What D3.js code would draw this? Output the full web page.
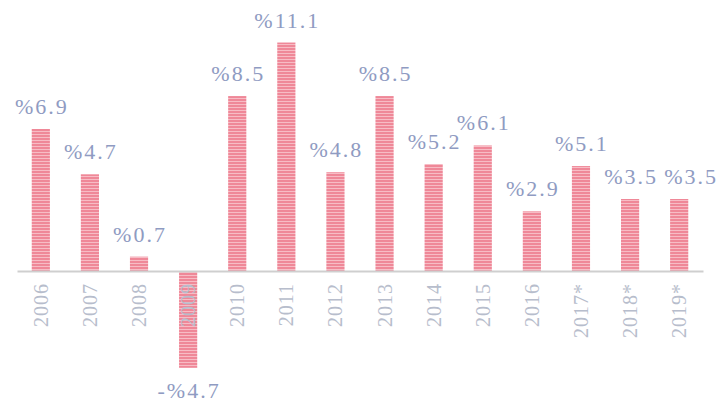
<!DOCTYPE html>
<html>
<head>
<meta charset="utf-8">
<script src="https://cdn.jsdelivr.net/npm/d3@7"></script>
<style>
  body { margin: 0; background: #fff; }
</style>
</head>
<body>
<div id="chart"></div>
<script>
// years and growth values
var years = ["2006", "2007", "2008", "2009", "2010", "2011", "2012", "2013",
             "2014", "2015", "2016", "2017*", "2018*", "2019*"];
var growth = [6.9, 4.7, 0.7, -4.7, 8.5, 11.1, 4.8, 8.5, 5.2, 6.1, 2.9, 5.1, 3.5, 3.5];
var valueLabels = ["%6.9", "%4.7", "%0.7", "-%4.7", "%8.5", "%11.1", "%4.8", "%8.5",
                   "%5.2", "%6.1", "%2.9", "%5.1", "%3.5", "%3.5"];

var width = 725,
    height = 410;

var data = years.map(function (y, i) {
    return {year: y, value: growth[i], label: valueLabels[i]};
});

var svg = d3.select("#chart")
    .append("svg")
    .attr("width", width)
    .attr("height", height);

// striped fill to mimic the scanned bars
var pat = svg.append("defs")
    .append("pattern")
    .attr("id", "stripes")
    .attr("patternUnits", "userSpaceOnUse")
    .attr("width", 4)
    .attr("height", 3);
pat.append("rect")
    .attr("width", 4)
    .attr("height", 3)
    .attr("fill", "#ef8898");
pat.append("rect")
    .attr("y", 2)
    .attr("width", 4)
    .attr("height", 1)
    .attr("fill", "#f7bcc5");

// X scale
var x = d3.scaleBand()
    .domain(years)
    .range([17, 703])
    .paddingInner(0.63)
    .paddingOuter(0.3);

// Y scale
var y = d3.scaleLinear()
    .domain([-5, 12])
    .range([374, 24]);

// Bars
svg.selectAll("rect.bar")
    .data(data)
    .enter()
    .append("rect")
    .attr("class", "bar")
    .attr("x", function (d) { return x(d.year); })
    .attr("width", x.bandwidth())
    .attr("y", function (d) { return y(Math.max(0, d.value)); })
    .attr("height", function (d) { return Math.abs(y(d.value) - y(0)); })
    .attr("fill", "url(#stripes)");

// X axis
var xAxis = d3.axisBottom(x).tickSize(0).tickPadding(12);

var gx = svg.append("g")
    .attr("transform", "translate(0," + y(0) + ")")
    .call(xAxis);

gx.select(".domain")
    .attr("stroke", "#cfcfcf")
    .attr("stroke-width", 2);

gx.selectAll("text")
    .attr("transform", "rotate(-90)")
    .attr("text-anchor", "end")
    .attr("dy", "0.35em")
    .attr("x", -12)
    .attr("y", 0)
    .style("font-family", "'Liberation Serif', serif")
    .style("font-size", "20px")
    .style("letter-spacing", "1px")
    .style("fill", "#b7bdcc");

// Value labels (last one nudged right so the two %3.5 don't touch)
svg.selectAll("text.val")
    .data(data)
    .enter()
    .append("text")
    .attr("class", "val")
    .attr("x", function (d, i) {
        var nudge = i === data.length - 1 ? 12 : 1;
        return x(d.year) + x.bandwidth() / 2 + nudge;
    })
    .attr("y", function (d) {
        return d.value >= 0 ? y(d.value) - 15 : y(d.value) + 30;
    })
    .attr("text-anchor", "middle")
    .style("font-family", "'Liberation Serif', serif")
    .style("font-size", "22px")
    .style("letter-spacing", "2px")
    .style("fill", "#8f9bc2")
    .text(function (d) { return d.label; });
</script>
</body>
</html>
